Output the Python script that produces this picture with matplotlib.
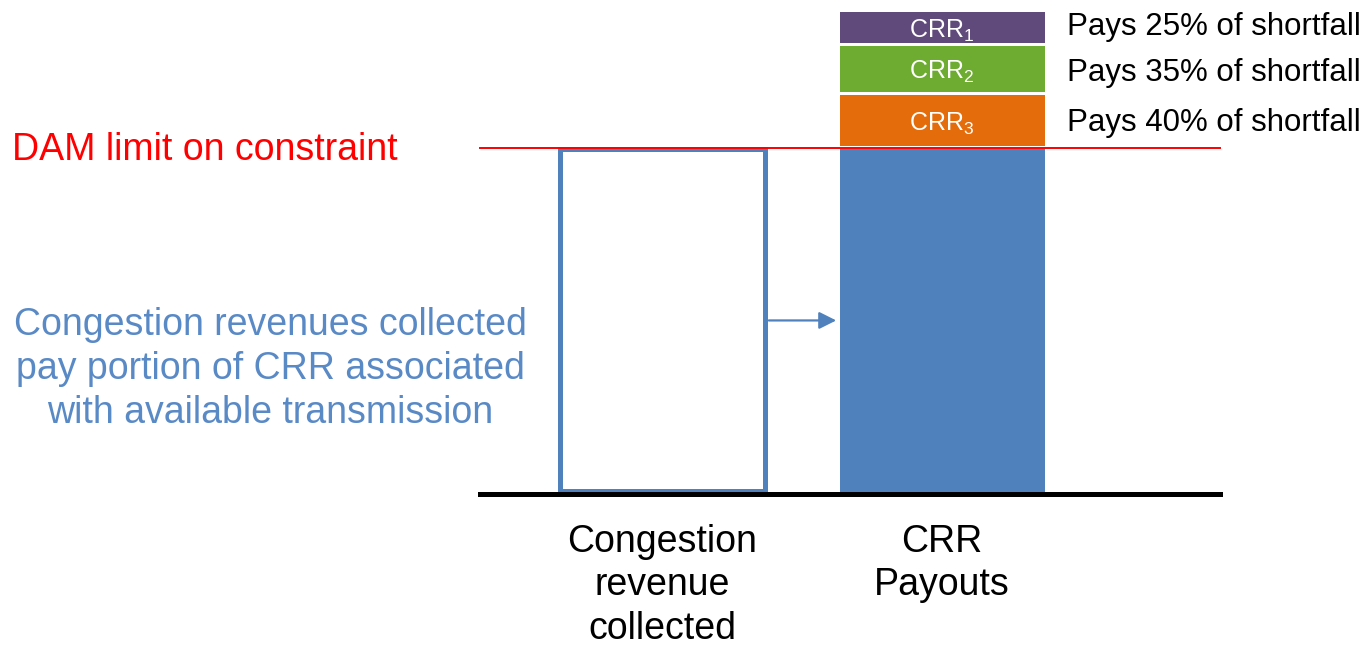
import matplotlib
matplotlib.use('Agg')
import matplotlib.pyplot as plt

plt.rcParams['font.family'] = ['Liberation Sans', 'DejaVu Sans']
plt.rcParams['mathtext.default'] = 'regular'

# data
categories = ['Congestion\nrevenue\ncollected', 'CRR\nPayouts']
collected = 100          # congestion revenue collected (up to DAM limit)
payout_base = 100        # CRR payouts covered by collected revenue
dam_limit = 100
crr_names = ['CRR$_3$', 'CRR$_2$', 'CRR$_1$']
crr_heights = [14.9, 13.4, 9.0]
crr_gap = 0.9
crr_colors = ['#E46C0A', '#6DAB31', '#604A7B']
crr_notes = ['Pays 40% of shortfall', 'Pays 35% of shortfall', 'Pays 25% of shortfall']

blue = '#4F81BD'

fig = plt.figure(figsize=(13.72, 6.45), dpi=100)
ax = fig.add_axes([0, 0, 1, 1])
ax.set_xlim(0, 1372)
ax.set_ylim(-44.6, 143.4)
ax.axis('off')

xpos = [662, 942]
width = 205

# hollow collected bar
ax.bar(xpos[0], collected - 0.4, width=width, bottom=0.4, facecolor='white',
       edgecolor=blue, linewidth=3.6, zorder=2)
# CRR payouts base
ax.bar(xpos[1], payout_base, width=width, color=blue, zorder=2)

# shortfall stack
bottom = payout_base + 0.9
for name, h, c, note, dy in zip(crr_names, crr_heights, crr_colors, crr_notes, [-0.9, -1.2, 0.1]):
    ax.bar(xpos[1], h, width=width, bottom=bottom, color=c, linewidth=0, zorder=2)
    ax.text(xpos[1], bottom + h / 2 - 1.0, name, color='white', fontsize=18, ha='center', va='center')
    ax.text(1067, bottom + h / 2 + dy, note, color='black', fontsize=22.5, ha='left', va='center')
    bottom += h + crr_gap

# DAM limit line and baseline
ax.plot([480, 1220], [dam_limit + 0.4, dam_limit + 0.4], color='red', linewidth=1.4, zorder=3)
ax.plot([480, 1220], [-0.5, -0.5], color='black', linewidth=3.6, zorder=3)
ax.text(12, dam_limit - 0.4, 'DAM limit on constraint', color='red', fontsize=27, ha='left', va='center')

# arrow between bars
ax.annotate('', xy=(839, 50), xytext=(766, 50),
            arrowprops=dict(arrowstyle='-|>', color=blue, lw=1.6, mutation_scale=26))

ax.text(270, 50.5 - 14.6, 'Congestion revenues collected\npay portion of CRR associated\nwith available transmission',
        color='#5A8AC6', fontsize=27, ha='center', va='center', linespacing=1.29)

# category labels
for x, lab in zip(xpos, categories):
    ax.text(x, -9.3, lab, color='black', fontsize=27, ha='center', va='top', linespacing=1.27)

fig.savefig('out.png', dpi=100)
